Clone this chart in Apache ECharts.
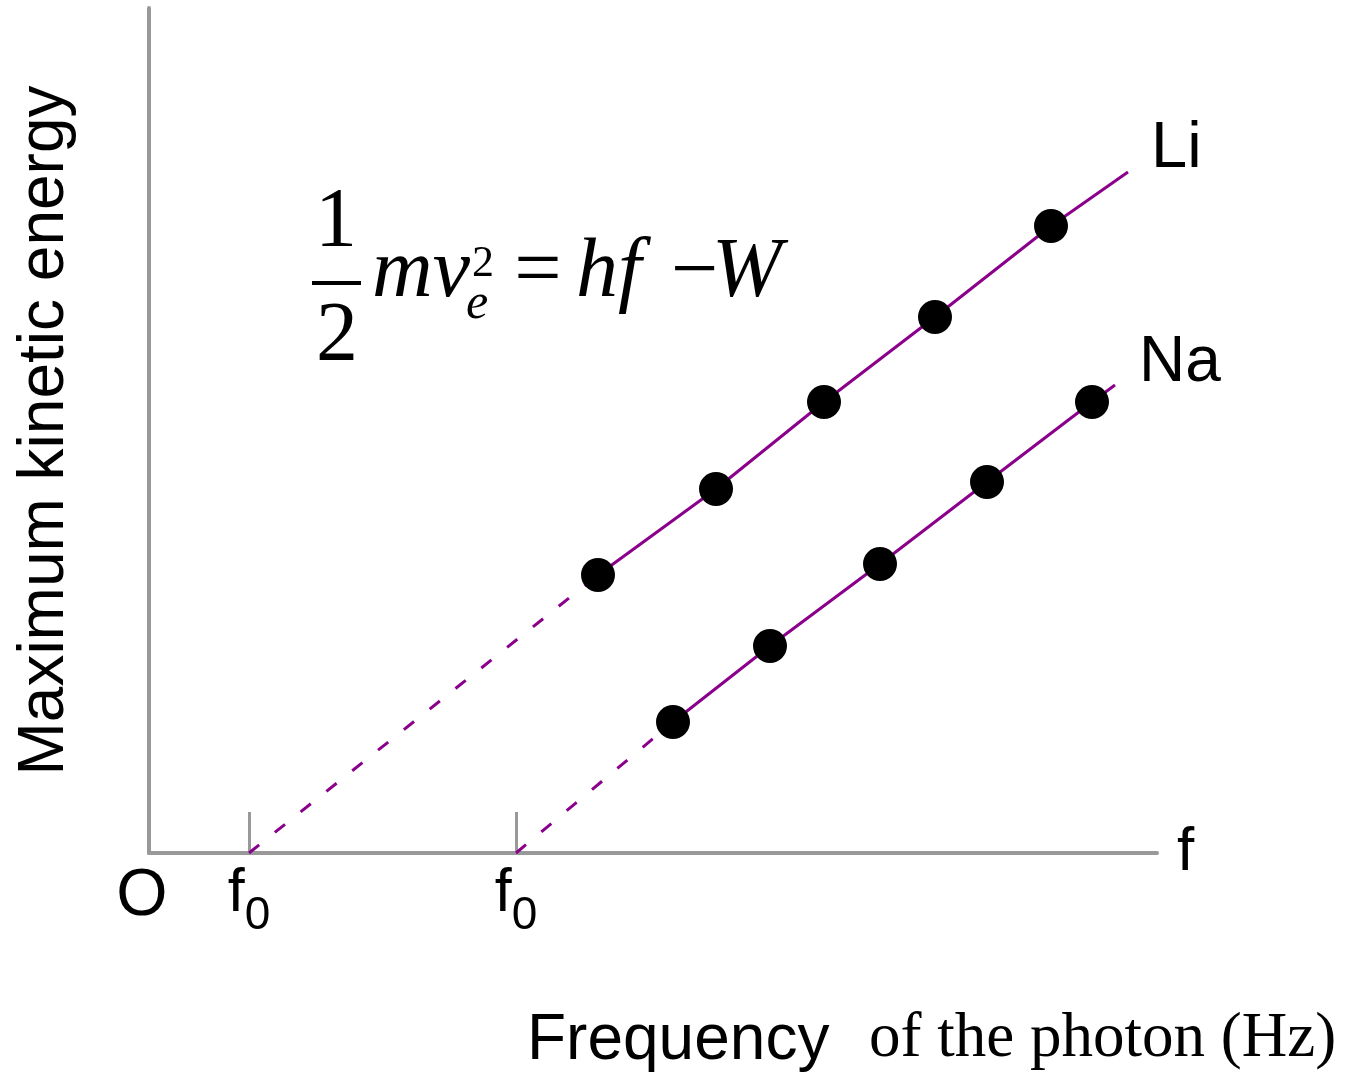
<!DOCTYPE html>
<html>
<head>
<meta charset="utf-8">
<script src="https://cdn.jsdelivr.net/npm/echarts@6/dist/echarts.min.js"></script>
<style>html,body{margin:0;padding:0;background:#fff;}#c{width:1361px;height:1074px;}</style>
</head>
<body>
<div id="c"></div>
<script>
// Data (arbitrary units)
const thresholds = { Li: 1.00, Na: 3.67 };
const liX = [4.49, 5.67, 6.75, 7.86, 9.02];
const liY = [2.78, 3.64, 4.51, 5.36, 6.27];
const naX = [5.24, 6.21, 7.31, 8.38, 9.43];
const naY = [1.31, 2.07, 2.89, 3.71, 4.51];
const liEnd = [9.79, 6.81];
const naEnd = [9.66, 4.68];
const tickValues = [thresholds.Li, thresholds.Na];
const labelValues = [0, thresholds.Li, thresholds.Na];

const PURPLE = '#8B008B';
const GRAY = '#999999';
const SANS = 'Liberation Sans, Arial, sans-serif';
const SERIF = 'Liberation Serif, Times New Roman, serif';

const liPts = liX.map((x, i) => [x, liY[i]]);
const naPts = naX.map((x, i) => [x, naY[i]]);

function fitLine(pts, end) { return pts.concat([end]); }

const chart = echarts.init(document.getElementById('c'));
const serifText = (text, x, y, size, italic, align) => ({
  type: 'text', x: x, y: y, silent: true,
  style: { text: text, font: (italic ? 'italic ' : '') + size + 'px ' + SERIF,
           fill: '#000', align: align || 'left', verticalAlign: 'middle' }
});

chart.setOption({
  animation: false,
  grid: { left: 149, top: 8, width: 1008, height: 845 },
  xAxis: {
    type: 'value', min: 0, max: 10.08,
    name: 'f', nameLocation: 'end', nameGap: 20,
    nameTextStyle: { fontFamily: SANS, fontSize: 62, color: '#000', verticalAlign: 'middle' },
    axisLine: { show: true, onZero: false, lineStyle: { color: GRAY, width: 4 } },
    axisTick: { show: true, inside: true, length: 41, customValues: tickValues, lineStyle: { color: GRAY, width: 3 } },
    splitLine: { show: false },
    axisLabel: {
      show: true, customValues: labelValues, margin: 11,
      formatter: v => v === 0 ? '{o|O}' : '{f|f}{s|0}',
      rich: {
        o: { fontFamily: SANS, fontSize: 66, color: '#000', verticalAlign: 'top', lineHeight: 75, padding: [0, 14, 0, 0] },
        f: { fontFamily: SANS, fontSize: 61, color: '#000', verticalAlign: 'top', lineHeight: 75 },
        s: { fontFamily: SANS, fontSize: 46, color: '#000', verticalAlign: 'bottom', lineHeight: 75 }
      }
    }
  },
  yAxis: {
    type: 'value', min: 0, max: 8.45,
    name: 'Maximum kinetic energy', nameLocation: 'middle', nameRotate: 90, nameGap: 72,
    nameTextStyle: { fontFamily: SANS, fontSize: 64, color: '#000' },
    axisLine: { show: true, onZero: false, lineStyle: { color: GRAY, width: 4 } },
    axisTick: { show: false }, axisLabel: { show: false }, splitLine: { show: false }
  },
  series: [
    { name: 'Li extrapolation', type: 'line', data: [[thresholds.Li, 0], liPts[0]], showSymbol: false,
      lineStyle: { color: PURPLE, width: 3, type: [13, 20] }, z: 2 },
    { name: 'Li fit', type: 'line', data: fitLine(liPts, liEnd), showSymbol: false,
      lineStyle: { color: PURPLE, width: 3 }, z: 2 },
    { name: 'Na extrapolation', type: 'line', data: [[thresholds.Na, 0], naPts[0]], showSymbol: false,
      lineStyle: { color: PURPLE, width: 3, type: [13, 20] }, z: 2 },
    { name: 'Na fit', type: 'line', data: fitLine(naPts, naEnd), showSymbol: false,
      lineStyle: { color: PURPLE, width: 3 }, z: 2 },
    { name: 'Li', type: 'scatter', data: liPts, symbol: 'circle', symbolSize: 34,
      itemStyle: { color: '#000', opacity: 1 }, z: 3 },
    { name: 'Na', type: 'scatter', data: naPts, symbol: 'circle', symbolSize: 34,
      itemStyle: { color: '#000', opacity: 1 }, z: 3 }
  ],
  graphic: [
    { type: 'text', x: 1151, y: 149, silent: true,
      style: { text: 'Li', font: '65px ' + SANS, fill: '#000', align: 'left', verticalAlign: 'middle' } },
    { type: 'text', x: 1139, y: 363, silent: true,
      style: { text: 'Na', font: '64px ' + SANS, fill: '#000', align: 'left', verticalAlign: 'middle' } },
    // formula
    serifText('1', 336, 224, 84, false, 'center'),
    { type: 'line', silent: true, shape: { x1: 312, y1: 283, x2: 361, y2: 283 }, style: { stroke: '#000', lineWidth: 4 } },
    serifText('2', 337, 338, 84, false, 'center'),
    serifText('mv', 372, 274, 84, true),
    serifText('e', 466, 305, 50, true),
    serifText('2', 472, 264, 44, false),
    serifText('=', 538, 274, 84, false, 'center'),
    serifText('hf', 576, 274, 84, true),
    serifText('\u2212', 671, 274, 84, false),
    serifText('W', 712, 274, 84, true),
    // bottom caption
    { type: 'text', x: 527, y: 1041, silent: true,
      style: { text: 'Frequency', font: '64px ' + SANS, fill: '#000', align: 'left', verticalAlign: 'middle' } },
    serifText('of the photon (Hz)', 869, 1039, 63, false)
  ]
});
</script>
</body>
</html>
